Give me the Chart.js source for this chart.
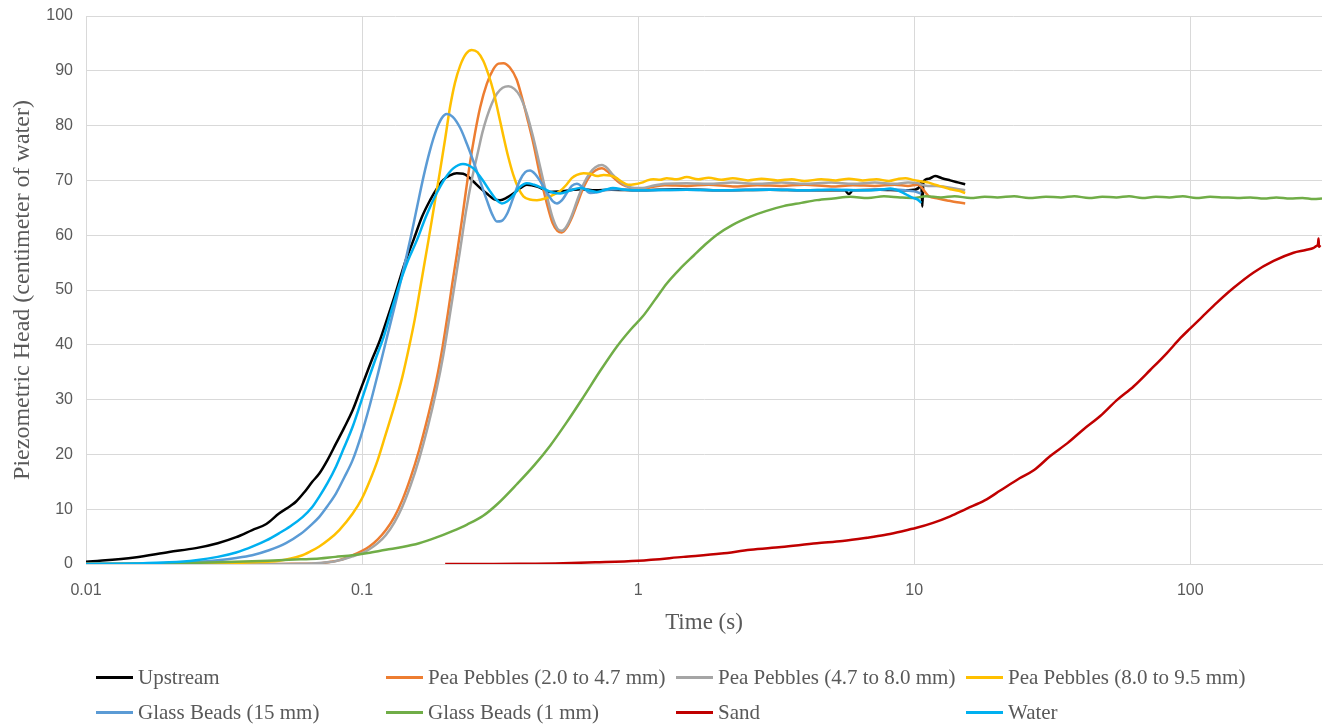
<!DOCTYPE html>
<html>
<head>
<meta charset="utf-8">
<script src="https://cdn.jsdelivr.net/npm/chart.js@4/dist/chart.umd.min.js"></script>
<style>
  html, body { margin: 0; padding: 0; background: #ffffff; }
  #wrap { position: relative; width: 1333px; height: 726px; overflow: hidden; }
  #chart { position: absolute; left: 0; top: 0; }
  #legend {
    position: absolute; left: 96px; top: 660px;
    font-family: "Liberation Serif", "Times New Roman", serif;
    font-size: 21px; color: #595959;
  }
  .row { height: 35px; display: flex; align-items: center; }
  .item { width: 290px; display: flex; align-items: center; white-space: nowrap; }
  .swatch { width: 37px; height: 3px; margin-right: 5px; flex: none; }
</style>
</head>
<body>
<div id="wrap">
  <canvas id="chart" width="1333" height="726"></canvas>
  <div id="legend"></div>
</div>
<script>
// Piezometric head readings, [time (s), head (cm of water)]
const upstream = [
  [0.01,0.4],[0.015,1.2],[0.02,2.2],[0.025,2.9],[0.03,3.8],[0.035,4.9],[0.04,6.2],[0.045,7.3],
  [0.05,9.2],[0.055,10.6],[0.0577,11.4],[0.062,13.2],[0.066,15.0],[0.07,16.5],[0.075,19.0],
  [0.0805,22.0],[0.086,24.8],[0.0925,28.1],[0.098,31.4],[0.1034,34.5],[0.109,37.5],[0.1156,40.6],
  [0.123,44.6],[0.131,48.8],[0.143,55.0],[0.1535,59.1],[0.165,63.4],[0.1764,66.4],[0.187,68.6],
  [0.197,70.1],[0.208,70.9],[0.2203,71.3],[0.2324,71.2],[0.242,70.7],[0.253,69.8],[0.268,68.6],
  [0.283,67.6],[0.30,66.6],[0.316,66.4],[0.333,66.8],[0.353,67.6],[0.375,68.6],[0.395,69.2],
  [0.43,68.9],[0.48,67.9],[0.52,68.0],[0.567,68.2],[0.62,68.4],[0.7,68.2],[0.8,68.3],[1,68.2],
  [1.4,68.4],[2,68.2],[3,68.3],[4,68.2],[5.6,68.2],[5.8,67.5],[6,68.2],[7.5,68.3],[9,68.2],
  [10,68.3],[10.5,69.0],[10.6,69.8],[10.7,65.2],[10.8,69.8],[11.3,70.3],[11.9,70.8],[12.6,70.4],
  [13.5,70.0],[14.5,69.6],[15.3,69.3]
];
const peaPebbles2to47 = [
  [0.01,0],[0.03,0],[0.05,0],[0.06,0.05],[0.07,0.1],[0.077,0.4],[0.0827,0.7],[0.0925,1.6],
  [0.1,2.4],[0.1063,3.2],[0.114,4.5],[0.122,6.2],[0.131,8.6],[0.14,11.7],[0.15,15.8],[0.161,20.8],
  [0.173,26.8],[0.186,33.6],[0.196,39.8],[0.2044,45.6],[0.212,51.0],[0.2203,56.4],[0.23,62.8],
  [0.238,68.2],[0.246,73.2],[0.256,78.4],[0.2677,83.3],[0.283,87.6],[0.299,90.3],[0.312,91.3],
  [0.325,91.4],[0.343,90.6],[0.363,88.4],[0.38,85.0],[0.40,80.6],[0.418,76.6],[0.44,71.2],
  [0.467,65.8],[0.49,62.2],[0.51,60.8],[0.529,60.5],[0.55,61.3],[0.575,63.2],[0.60,65.6],
  [0.635,68.8],[0.67,70.9],[0.70,71.8],[0.739,72.2],[0.775,71.6],[0.81,70.6],[0.86,69.5],
  [0.91,68.9],[0.97,68.4],[1.04,68.4],[1.12,68.8],[1.25,69.1],[1.5,69.0],[1.8,69.2],[2.2,68.9],
  [2.7,69.1],[3.3,69.0],[4,69.2],[5,68.9],[6,69.1],[7.2,69.0],[8.5,69.2],[9.5,69.0],[10.3,69.2],
  [10.6,68.8],[10.9,68.0],[11.3,67.1],[12.2,66.7],[13.3,66.3],[14.3,66.0],[15.3,65.8]
];
const peaPebbles47to80 = [
  [0.01,0],[0.03,0],[0.05,0],[0.06,0.05],[0.07,0.2],[0.08,0.5],[0.0925,1.4],[0.1,2.0],
  [0.1063,2.7],[0.114,3.8],[0.122,5.3],[0.131,7.6],[0.14,10.5],[0.15,14.4],[0.161,19.2],
  [0.173,25.0],[0.186,31.8],[0.197,38.2],[0.21,46.8],[0.2265,57.3],[0.238,64.4],[0.2508,70.6],
  [0.2638,75.5],[0.273,78.8],[0.283,81.5],[0.295,84.0],[0.3077,85.8],[0.323,86.9],[0.339,87.2],
  [0.356,86.7],[0.373,85.4],[0.395,82.2],[0.418,77.6],[0.44,72.8],[0.467,67.2],[0.49,63.2],
  [0.51,61.2],[0.529,60.8],[0.55,61.6],[0.575,63.6],[0.60,66.2],[0.635,69.4],[0.67,71.4],
  [0.70,72.4],[0.739,72.8],[0.775,72.2],[0.81,71.0],[0.86,69.8],[0.91,69.0],[0.97,68.6],
  [1.04,68.6],[1.12,69.0],[1.25,69.4],[1.5,69.5],[1.8,69.4],[2.2,69.6],[2.7,69.4],[3.3,69.6],
  [4,69.4],[5,69.6],[6,69.4],[7.2,69.6],[8.5,69.4],[9.5,69.6],[10.3,69.5],[10.7,69.2],
  [11.2,69.0],[12,69.0],[13,68.8],[14.2,68.5],[15.3,68.2]
];
const peaPebbles80to95 = [
  [0.01,0],[0.02,0],[0.03,0.1],[0.04,0.3],[0.05,0.6],[0.06,1.5],[0.065,2.3],[0.07,3.2],
  [0.076,4.5],[0.0827,6.2],[0.0925,9.2],[0.1,12.0],[0.1063,15.0],[0.114,19.0],[0.122,23.8],
  [0.131,28.9],[0.14,34.2],[0.148,39.6],[0.155,44.5],[0.164,51.6],[0.174,59.1],[0.182,65.0],
  [0.191,71.3],[0.2,77.6],[0.208,83.2],[0.217,87.8],[0.2265,90.9],[0.238,93.1],[0.2497,93.8],
  [0.262,93.4],[0.275,91.8],[0.287,89.3],[0.299,86.3],[0.311,82.5],[0.324,78.4],[0.338,74.4],
  [0.353,71.0],[0.368,68.6],[0.384,67.1],[0.405,66.5],[0.43,66.4],[0.46,66.7],[0.49,67.3],
  [0.52,68.0],[0.55,69.2],[0.575,70.4],[0.60,71.0],[0.635,71.3],[0.67,71.2],[0.71,70.8],
  [0.75,71.0],[0.79,70.9],[0.83,70.5],[0.87,69.8],[0.92,69.2],[0.97,69.3],[1.03,69.6],
  [1.08,70.0],[1.135,70.2],[1.2,70.1],[1.27,70.4],[1.38,70.2],[1.5,70.6],[1.65,70.2],[1.8,70.5],
  [2.0,70.1],[2.2,70.4],[2.5,70.0],[2.8,70.3],[3.2,70.0],[3.6,70.2],[4.0,69.9],[4.6,70.2],
  [5.2,70.0],[5.8,70.3],[6.5,70.0],[7.3,70.2],[8.1,69.9],[8.8,70.3],[9.3,70.4],[9.9,70.1],
  [10.4,69.9],[10.7,69.8],[11.3,69.6],[11.9,69.2],[12.7,68.8],[13.5,68.4],[14.5,68.1],[15.3,67.7]
];
const glassBeads15 = [
  [0.01,0],[0.015,0.05],[0.02,0.2],[0.025,0.4],[0.03,0.7],[0.035,1.1],[0.04,1.6],[0.046,2.5],
  [0.053,3.8],[0.06,5.5],[0.065,7.0],[0.07,8.6],[0.075,10.6],[0.0805,12.9],[0.086,15.7],
  [0.0925,19.0],[0.099,23.3],[0.1063,28.7],[0.114,34.6],[0.122,40.6],[0.133,48.2],[0.1493,59.1],
  [0.158,65.0],[0.1668,70.6],[0.176,75.4],[0.186,79.3],[0.194,81.3],[0.2027,82.1],[0.213,81.6],
  [0.2265,79.6],[0.24,76.6],[0.253,73.5],[0.268,69.8],[0.283,66.4],[0.296,63.8],[0.3077,62.5],
  [0.32,62.6],[0.336,64.0],[0.355,67.2],[0.373,70.0],[0.39,71.5],[0.406,71.8],[0.423,71.2],
  [0.44,70.0],[0.47,67.6],[0.49,66.2],[0.508,65.8],[0.53,66.4],[0.55,67.6],[0.575,69.0],
  [0.6,69.4],[0.635,68.6],[0.67,67.7],[0.72,67.9],[0.77,68.3],[0.85,68.4],[1,68.2],[1.5,68.3],
  [2,68.2],[3,68.4],[4,68.2],[5,68.3],[6.5,68.2],[8,68.4],[9.3,68.2],[10,68.0],[10.6,67.6]
];
const glassBeads1 = [
  [0.01,0],[0.015,0.05],[0.02,0.1],[0.03,0.3],[0.04,0.5],[0.05,0.7],[0.06,0.85],[0.07,1.0],
  [0.08,1.3],[0.0925,1.6],[0.105,2.0],[0.122,2.6],[0.14,3.1],[0.161,3.8],[0.185,4.8],[0.2125,6.0],
  [0.24,7.2],[0.2745,8.8],[0.31,11.0],[0.3642,14.6],[0.42,18.0],[0.48,21.6],[0.55,25.8],
  [0.634,30.5],[0.73,35.3],[0.838,39.7],[0.94,42.8],[1.04,45.2],[1.15,48.2],[1.27,51.2],
  [1.42,53.9],[1.59,56.3],[1.75,58.3],[1.93,60.1],[2.2,61.9],[2.55,63.4],[2.9,64.4],[3.36,65.3],
  [3.9,65.9],[4.44,66.4],[5.1,66.7],[5.87,67.0],[6.8,66.8],[7.77,67.1],[8.9,66.9],[10,66.8],
  [11,67.1],[12.5,66.9],[14,67.1],[16,66.8],[18,67.0],[20,66.9],[23,67.1],[26,66.8],[30,67.0],
  [34,66.9],[38,67.1],[43,66.8],[48,67.0],[54,66.9],[60,67.1],[67,66.8],[75,67.0],[84,66.9],
  [94,67.1],[105,66.8],[118,67.0],[132,66.9],[148,66.8],[165,66.9],[185,66.7],[205,66.9],
  [230,66.7],[255,66.8],[280,66.6],[300,66.7]
];
const sand = [
  [0.2,0],[0.3,0],[0.4,0.05],[0.5,0.1],[0.7,0.3],[1,0.6],[1.46,1.3],[2,1.9],[2.55,2.6],[3.3,3.1],
  [4.44,3.8],[5.5,4.2],[6.74,4.8],[7.8,5.3],[8.88,5.9],[10.2,6.6],[11.7,7.5],[13.5,8.7],
  [15.5,10.1],[18,11.6],[20.5,13.4],[24,15.6],[27.1,17.1],[31.1,19.7],[36,22.1],[41.1,24.6],
  [47.2,27.0],[54.2,29.9],[62.3,32.4],[71.6,35.4],[82.3,38.5],[92,41.2],[100,43.0],[112,45.4],
  [124.9,47.7],[143.6,50.4],[169.6,53.2],[200.4,55.3],[236.6,56.8],[262,57.3],[279.9,57.7],
  [286,58.0],[290,58.3],[291.5,59.4],[292.5,57.9],[296,58.2]
];
const water = [
  [0.01,0],[0.015,0.1],[0.02,0.3],[0.025,0.7],[0.03,1.3],[0.035,2.1],[0.0402,3.2],[0.045,4.3],
  [0.05,5.6],[0.055,6.9],[0.061,8.6],[0.066,10.4],[0.07,12.3],[0.075,14.8],[0.0805,17.8],
  [0.086,21.2],[0.0925,25.1],[0.099,29.5],[0.1063,34.2],[0.113,38.0],[0.12,41.6],[0.128,46.4],
  [0.137,51.2],[0.147,55.5],[0.158,59.1],[0.171,63.6],[0.186,67.6],[0.2,70.4],[0.214,72.2],
  [0.232,73.0],[0.253,72.2],[0.272,70.2],[0.291,68.0],[0.305,66.6],[0.321,65.8],[0.336,66.2],
  [0.353,67.3],[0.373,68.8],[0.395,69.5],[0.42,69.2],[0.454,68.5],[0.49,67.8],[0.522,67.6],
  [0.57,68.2],[0.617,68.6],[0.66,68.2],[0.708,67.9],[0.76,68.3],[0.81,68.6],[0.9,68.3],[1,68.2],
  [1.5,68.3],[2,68.2],[3,68.3],[4,68.2],[5,68.3],[6.5,68.2],[7.5,68.3],[8.2,68.5],[8.7,68.2],
  [9.3,67.5],[9.9,66.8],[10.3,66.5],[10.6,65.9]
];

const seriesNames = [
  'Upstream', 'Pea Pebbles (2.0 to 4.7 mm)', 'Pea Pebbles (4.7 to 8.0 mm)',
  'Pea Pebbles (8.0 to 9.5 mm)', 'Glass Beads (15 mm)', 'Glass Beads (1 mm)', 'Sand', 'Water'
];
const seriesData = [upstream, peaPebbles2to47, peaPebbles47to80, peaPebbles80to95,
  glassBeads15, glassBeads1, sand, water];
const seriesColors = ['#000000', '#ED7D31', '#A5A5A5', '#FFC000', '#5B9BD5', '#70AD47', '#C00000', '#00B0F0'];

const xTickValues = [0.01, 0.1, 1, 10, 100];
const xTickLabels = ['0.01', '0.1', '1', '10', '100'];

const gridColor = '#D9D9D9';
const textColor = '#595959';

const datasets = seriesNames.map((name, i) => ({
  label: name,
  data: seriesData[i].map(p => ({ x: p[0], y: p[1] })),
  borderColor: seriesColors[i],
  backgroundColor: seriesColors[i],
  borderWidth: 2.5,
  pointRadius: 0,
  fill: false,
  cubicInterpolationMode: 'monotone',
  order: seriesNames.length - i   // later series are painted on top
}));

const chart = new Chart(document.getElementById('chart'), {
  type: 'line',
  data: { datasets },
  options: {
    responsive: false,
    animation: false,
    devicePixelRatio: 1,
    layout: { padding: { top: 16, right: 11, bottom: 76, left: 0 } },
    plugins: { legend: { display: false }, tooltip: { enabled: false } },
    scales: {
      x: {
        type: 'logarithmic',
        min: 0.01,
        max: 300,
        afterBuildTicks: (scale) => { scale.ticks = xTickValues.map(v => ({ value: v })); },
        afterFit: (scale) => { scale.height = 86; },
        ticks: {
          autoSkip: false, maxRotation: 0, padding: 17, color: textColor,
          font: { family: '"Liberation Sans", Arial, sans-serif', size: 16 },
          callback: (value, index) => xTickLabels[index]
        },
        grid: { color: gridColor, lineWidth: 1, drawTicks: false },
        border: { color: gridColor, width: 1 },
        title: {
          display: true, text: 'Time (s)', color: textColor,
          font: { family: '"Liberation Serif", "Times New Roman", serif', size: 23 },
          padding: { top: 0, bottom: 13 }
        }
      },
      y: {
        min: 0,
        max: 100,
        afterFit: (scale) => { scale.width = 86; scale.paddingTop = 0; },
        ticks: {
          stepSize: 10, padding: 13, color: textColor,
          font: { family: '"Liberation Sans", Arial, sans-serif', size: 16 }
        },
        grid: { color: gridColor, lineWidth: 1, drawTicks: false },
        border: { color: gridColor, width: 1 },
        title: {
          display: true, text: 'Piezometric Head (centimeter of water)', color: textColor,
          font: { family: '"Liberation Serif", "Times New Roman", serif', size: 24 },
          padding: { top: 8, bottom: 0 }
        }
      }
    }
  }
});

// Legend: two rows of four fixed-width columns
const legendEl = document.getElementById('legend');
const perRow = 4;
let rowEl = null;
chart.data.datasets.forEach((ds, i) => {
  if (i % perRow === 0) {
    rowEl = document.createElement('div');
    rowEl.className = 'row';
    legendEl.appendChild(rowEl);
  }
  const item = document.createElement('div');
  item.className = 'item';
  const sw = document.createElement('span');
  sw.className = 'swatch';
  sw.style.background = ds.borderColor;
  const label = document.createElement('span');
  label.textContent = ds.label;
  item.appendChild(sw);
  item.appendChild(label);
  rowEl.appendChild(item);
});
</script>
</body>
</html>
